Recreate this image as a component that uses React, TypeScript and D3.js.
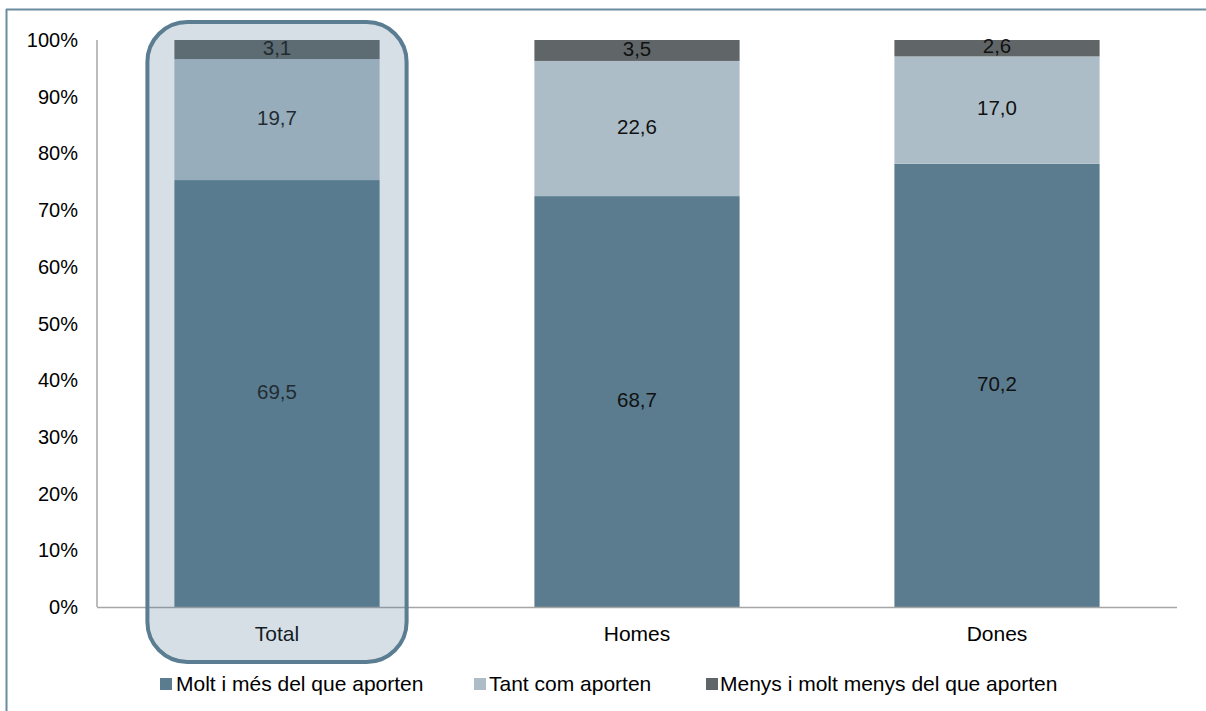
import React from "react";
import * as d3 from "d3";

const categories = ["Total", "Homes", "Dones"];
const seriesNames = ["Molt i més del que aporten", "Tant com aporten", "Menys i molt menys del que aporten"];
const molt = [69.5, 68.7, 70.2];
const tant = [19.7, 22.6, 17.0];
const menys = [3.1, 3.5, 2.6];
const yTicks = [0, 10, 20, 30, 40, 50, 60, 70, 80, 90, 100];
const colors = ["#5b7c8f", "#adbdc8", "#606668"];

export default function App() {
  const W = 1206, H = 711;
  const left = 97, right = 1177, top = 40, bottom = 607;
  const x = d3.scaleBand().domain(categories).range([left, right]).paddingInner(0.43).paddingOuter(0.215);
  const y = d3.scaleLinear().domain([0, 100]).range([bottom, top]);
  const rows = categories.map((c, i) => ({ cat: c, s0: molt[i], s1: tant[i], s2: menys[i] }));
  const stack = d3.stack<any>().keys(["s0", "s1", "s2"]).offset(d3.stackOffsetExpand);
  const layers = stack(rows);
  const font = "'Liberation Sans', Arial, sans-serif";
  const totalX = x("Total")! - 27;
  const totalW = x.bandwidth() + 54;
  const legendItems = [
    { sx: 160, tx: 176 },
    { sx: 474, tx: 489 },
    { sx: 706, tx: 720 },
  ];
  return (
    <svg width={W} height={H} style={{ position: "absolute", left: 0, top: 0, background: "#fff" }} fontFamily={font}>
      <line x1={6.5} y1={9} x2={6.5} y2={H} stroke="#6a8ca0" strokeWidth={2} />
      <line x1={6} y1={9.5} x2={W} y2={9.5} stroke="#6a8ca0" strokeWidth={2} />
      {layers.map((layer, li) =>
        layer.map((d, i) => (
          <rect key={`${li}-${i}`} x={x(categories[i])} y={y(d[1] * 100)} width={x.bandwidth()}
            height={y(d[0] * 100) - y(d[1] * 100)} fill={colors[li]} />
        ))
      )}
      <line x1={left} y1={top} x2={left} y2={bottom} stroke="#a6a6a6" strokeWidth={1.5} />
      <line x1={left} y1={bottom + 0.5} x2={right} y2={bottom + 0.5} stroke="#a6a6a6" strokeWidth={1.5} />
      {yTicks.map((t) => (
        <text key={t} x={78} y={y(t)} dy="0.35em" textAnchor="end" fontSize={20} fill="#000">{t}%</text>
      ))}
      {layers.map((layer, li) =>
        layer.map((d, i) => {
          const vals = [molt, tant, menys][li];
          const cy = (y(d[0] * 100) + y(d[1] * 100)) / 2;
          return (
            <text key={`l${li}-${i}`} x={x(categories[i])! + x.bandwidth() / 2} y={cy - 2} dy="0.35em"
              textAnchor="middle" fontSize={20.5} fill="#111">
              {vals[i].toFixed(1).replace(".", ",")}
            </text>
          );
        })
      )}
      {categories.map((c) => (
        <text key={c} x={x(c)! + x.bandwidth() / 2} y={634} dy="0.35em" textAnchor="middle" fontSize={21} fill="#000">{c}</text>
      ))}
      <rect x={totalX} y={22} width={totalW} height={640} rx={40} ry={40}
        fill="rgb(87,124,149)" fillOpacity={0.244} stroke="#5b7d92" strokeWidth={4} />
      {seriesNames.map((s, i) => (
        <g key={s}>
          <rect x={legendItems[i].sx} y={678} width={12} height={12} fill={colors[i]} />
          <text x={legendItems[i].tx} y={684} dy="0.35em" fontSize={21} fill="#000">{s}</text>
        </g>
      ))}
    </svg>
  );
}
